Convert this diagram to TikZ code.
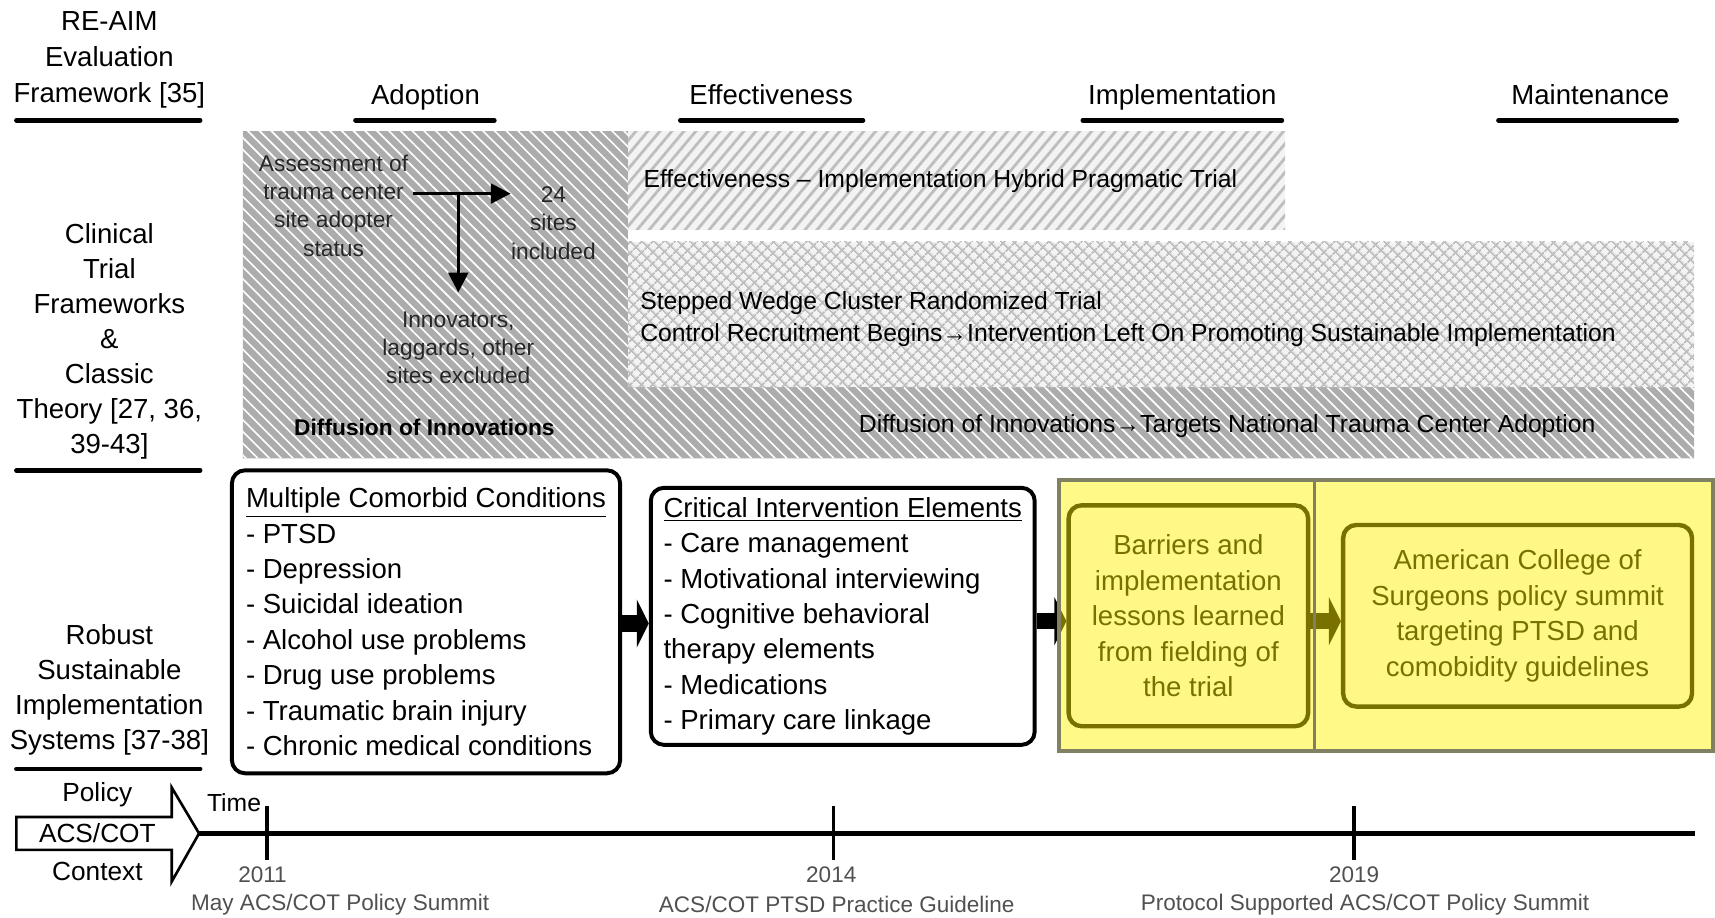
\documentclass[tikz,border=0pt]{standalone}
\usepackage{fontspec}
\setmainfont{Liberation Sans}
\usetikzlibrary{patterns.meta,arrows.meta}
\definecolor{darkhatch}{RGB}{172,172,172}
\definecolor{lightbg}{RGB}{243,243,243}
\definecolor{lightline}{RGB}{190,190,190}
\definecolor{olivebd}{RGB}{128,128,98}
\definecolor{tlgray}{RGB}{80,80,80}
\begin{document}
\begin{tikzpicture}[x=0.5pt,y=-0.5pt,
  hdr/.style={font=\fontsize{12.6}{16.5}\selectfont, align=center, inner sep=0},
  side/.style={font=\fontsize{12.6}{16}\selectfont, align=center, inner sep=0},
  uline/.style={line width=2.1pt, line cap=round},
  small/.style={font=\fontsize{10.4}{13}\selectfont, align=center, inner sep=0, text=black!85},
  band/.style={font=\fontsize{11.3}{14.5}\selectfont, inner sep=0},
  box/.style={draw, line width=1.8pt, rounded corners=6pt, fill=white, align=left, inner sep=0, font=\fontsize{12.6}{16.2}\selectfont},
  cbox/.style={box, align=center, line width=2pt},
  shaft/.style={line width=7.5pt},
  arr/.style={line width=1.35pt, -{Triangle[length=9pt,width=9pt]}},
  tl/.style={font=\fontsize{10.3}{12}\selectfont, text=tlgray, inner sep=0},
  tick/.style={line width=1.75pt}
]
\useasboundingbox (0,0) rectangle (1568,839);

% ---------- hatched regions ----------
\fill[darkhatch] (222,120) -- (574,120) -- (574,354) -- (1549,354) -- (1549,419) -- (222,419) -- cycle;
\fill[pattern={Lines[angle=-45,distance=3.8pt,line width=0.75pt]}, pattern color=white]
  (222,120) -- (574,120) -- (574,354) -- (1549,354) -- (1549,419) -- (222,419) -- cycle;
\fill[lightbg] (574,120) rectangle (1175,210);
\fill[pattern={Lines[angle=50,distance=4.2pt,line width=1.3pt]}, pattern color=lightline] (574,120) rectangle (1175,210);
\fill[lightbg] (574,221) rectangle (1549,354);
\fill[pattern={Hatch[angle=45,distance=4pt,line width=0.9pt]}, pattern color=lightline] (574,221) rectangle (1549,354);

% ---------- headers ----------
\node[hdr] (reaim) at (100,55) {RE-AIM\\Evaluation\\Framework [35]};
\node[hdr, anchor=base] (adopt) at (389,96) {Adoption};
\node[hdr, anchor=base] (effect) at (705,96) {Effectiveness};
\node[hdr, anchor=base] (implem) at (1081,96) {Implementation};
\node[hdr, anchor=base] (maint) at (1454,96) {Maintenance};
\draw[uline] (15,110) -- (183,110);
\draw[uline] (325,110) -- (452,110);
\draw[uline] (622,110) -- (789,110);
\draw[uline] (990,110) -- (1172,110);
\draw[uline] (1370,110) -- (1533,110);

% ---------- left column ----------
\node[side] (clin) at (100,312) {Clinical\\Trial\\Frameworks\\\&\\Classic\\Theory [27, 36,\\39-43]};
\draw[uline] (15,430) -- (183,430);
\node[side] (robust) at (100,631) {Robust\\Sustainable\\Implementation\\Systems [37-38]};
\draw[uline] (15,703) -- (183,703);

% ---------- adoption block ----------
\node[small] (assess) at (305,188) {Assessment of\\trauma center\\site adopter\\status};
\node[small] (incl) at (506,204) {24\\sites\\included};
\node[small] (innov) at (419,318) {Innovators,\\laggards, other\\sites excluded};
\node[font=\bfseries\fontsize{10.4}{13}\selectfont, inner sep=0] (doi) at (388,391) {Diffusion of Innovations};
\coordinate (j) at (419,177);
\draw[arr, shorten <=2pt] (assess.east |- j) -- (incl.west |- j);
\draw[arr, shorten >=8.5pt] (j) -- (innov.north);

% ---------- trial texts ----------
\node[band, anchor=west] (hybrid) at (588,166) {Effectiveness -- Implementation Hybrid Pragmatic Trial};
\node[band, anchor=west] (stepped) at (585,277) {Stepped Wedge Cluster Randomized Trial};
\node[band, anchor=west] (control) at (585,306) {Control Recruitment Begins→Intervention Left On Promoting Sustainable Implementation};
\node[band] (doi2) at (1122,390) {Diffusion of Innovations→Targets National Trauma Center Adoption};

% ---------- boxes ----------
\node[box, minimum width=177.5pt, minimum height=138.5pt] (b1) at (389.5,568.5)
  {\underline{Multiple Comorbid Conditions}\\- PTSD\\- Depression\\- Suicidal ideation\\- Alcohol use problems\\- Drug use problems\\- Traumatic brain injury\\- Chronic medical conditions};
\node[box, minimum width=175.5pt, minimum height=117.5pt] (b2) at (770.5,563.5)
  {\underline{Critical Intervention Elements}\\- Care management\\- Motivational interviewing\\- Cognitive behavioral\\therapy elements\\- Medications\\- Primary care linkage};
\node[cbox, minimum width=109.5pt, minimum height=101pt] (b3) at (1086.5,563)
  {Barriers and\\implementation\\lessons learned\\from fielding of\\the trial};
\node[cbox, minimum width=159.5pt, minimum height=83pt] (b4) at (1387.5,563)
  {American College of\\Surgeons policy summit\\targeting PTSD and\\comobidity guidelines};
\coordinate (ay1) at (0,570);
\coordinate (ay2) at (0,568);
\coordinate (a1s) at (b1.east |- ay1);
\coordinate (a1e) at (b2.west |- ay1);
\coordinate (a2s) at (b2.east |- ay2);
\coordinate (a2e) at (b3.west |- ay2);
\coordinate (a3s) at (b3.east |- ay2);
\coordinate (a3e) at (b4.west |- ay2);
\foreach \s/\e in {a1s/a1e, a2s/a2e, a3s/a3e}{
  \draw[shaft] (\s) -- ([xshift=-5pt]\e);
  \fill ([shift={(-11,-22)}]\e) -- (\e) -- ([shift={(-11,22)}]\e) -- cycle;
}

% ---------- yellow overlay ----------
\fill[yellow, fill opacity=0.47] (968,439) rectangle (1566,687);
\draw[olivebd, line width=1.8pt] (968,439) rectangle (1566,687);
\draw[olivebd, line width=1.6pt] (1202,439) -- (1202,687);

% ---------- policy context & timeline ----------
\coordinate (tip) at (182,762);
\coordinate (tend) at (1550,762);
\draw[line width=1.2pt, fill=white] (15,747) -- (157,747) -- (157,720) -- (tip) -- (157,806) -- (157,777) -- (15,777) -- cycle;
\node[font=\fontsize{12}{14}\selectfont, inner sep=0] (policy) at (89,727) {Policy};
\node[font=\fontsize{12}{14}\selectfont, inner sep=0] (acs) at (89,762) {ACS/COT};
\node[font=\fontsize{12}{14}\selectfont, inner sep=0] (ctx) at (89,797) {Context};
\draw[line width=2.4pt] (tip) -- (tend);
\node[font=\fontsize{11.3}{13}\selectfont, inner sep=0] (time) at (214,734) {Time};
\draw[tick] (244,737) -- (244,786);
\draw[tick] (762,737) -- (762,786);
\draw[tick] (1238,737) -- (1238,786);
\node[tl] (y2011) at (240,800) {2011};
\node[tl] (y2014) at (760,800) {2014};
\node[tl] (y2019) at (1238,800) {2019};
\node[tl] (e2011) at (311,827) {May ACS/COT Policy Summit};
\node[tl] (e2014) at (765,827) {ACS/COT PTSD Practice Guideline};
\node[tl] (e2019) at (1248,827) {Protocol Supported ACS/COT Policy Summit};
\end{tikzpicture}
\end{document}
